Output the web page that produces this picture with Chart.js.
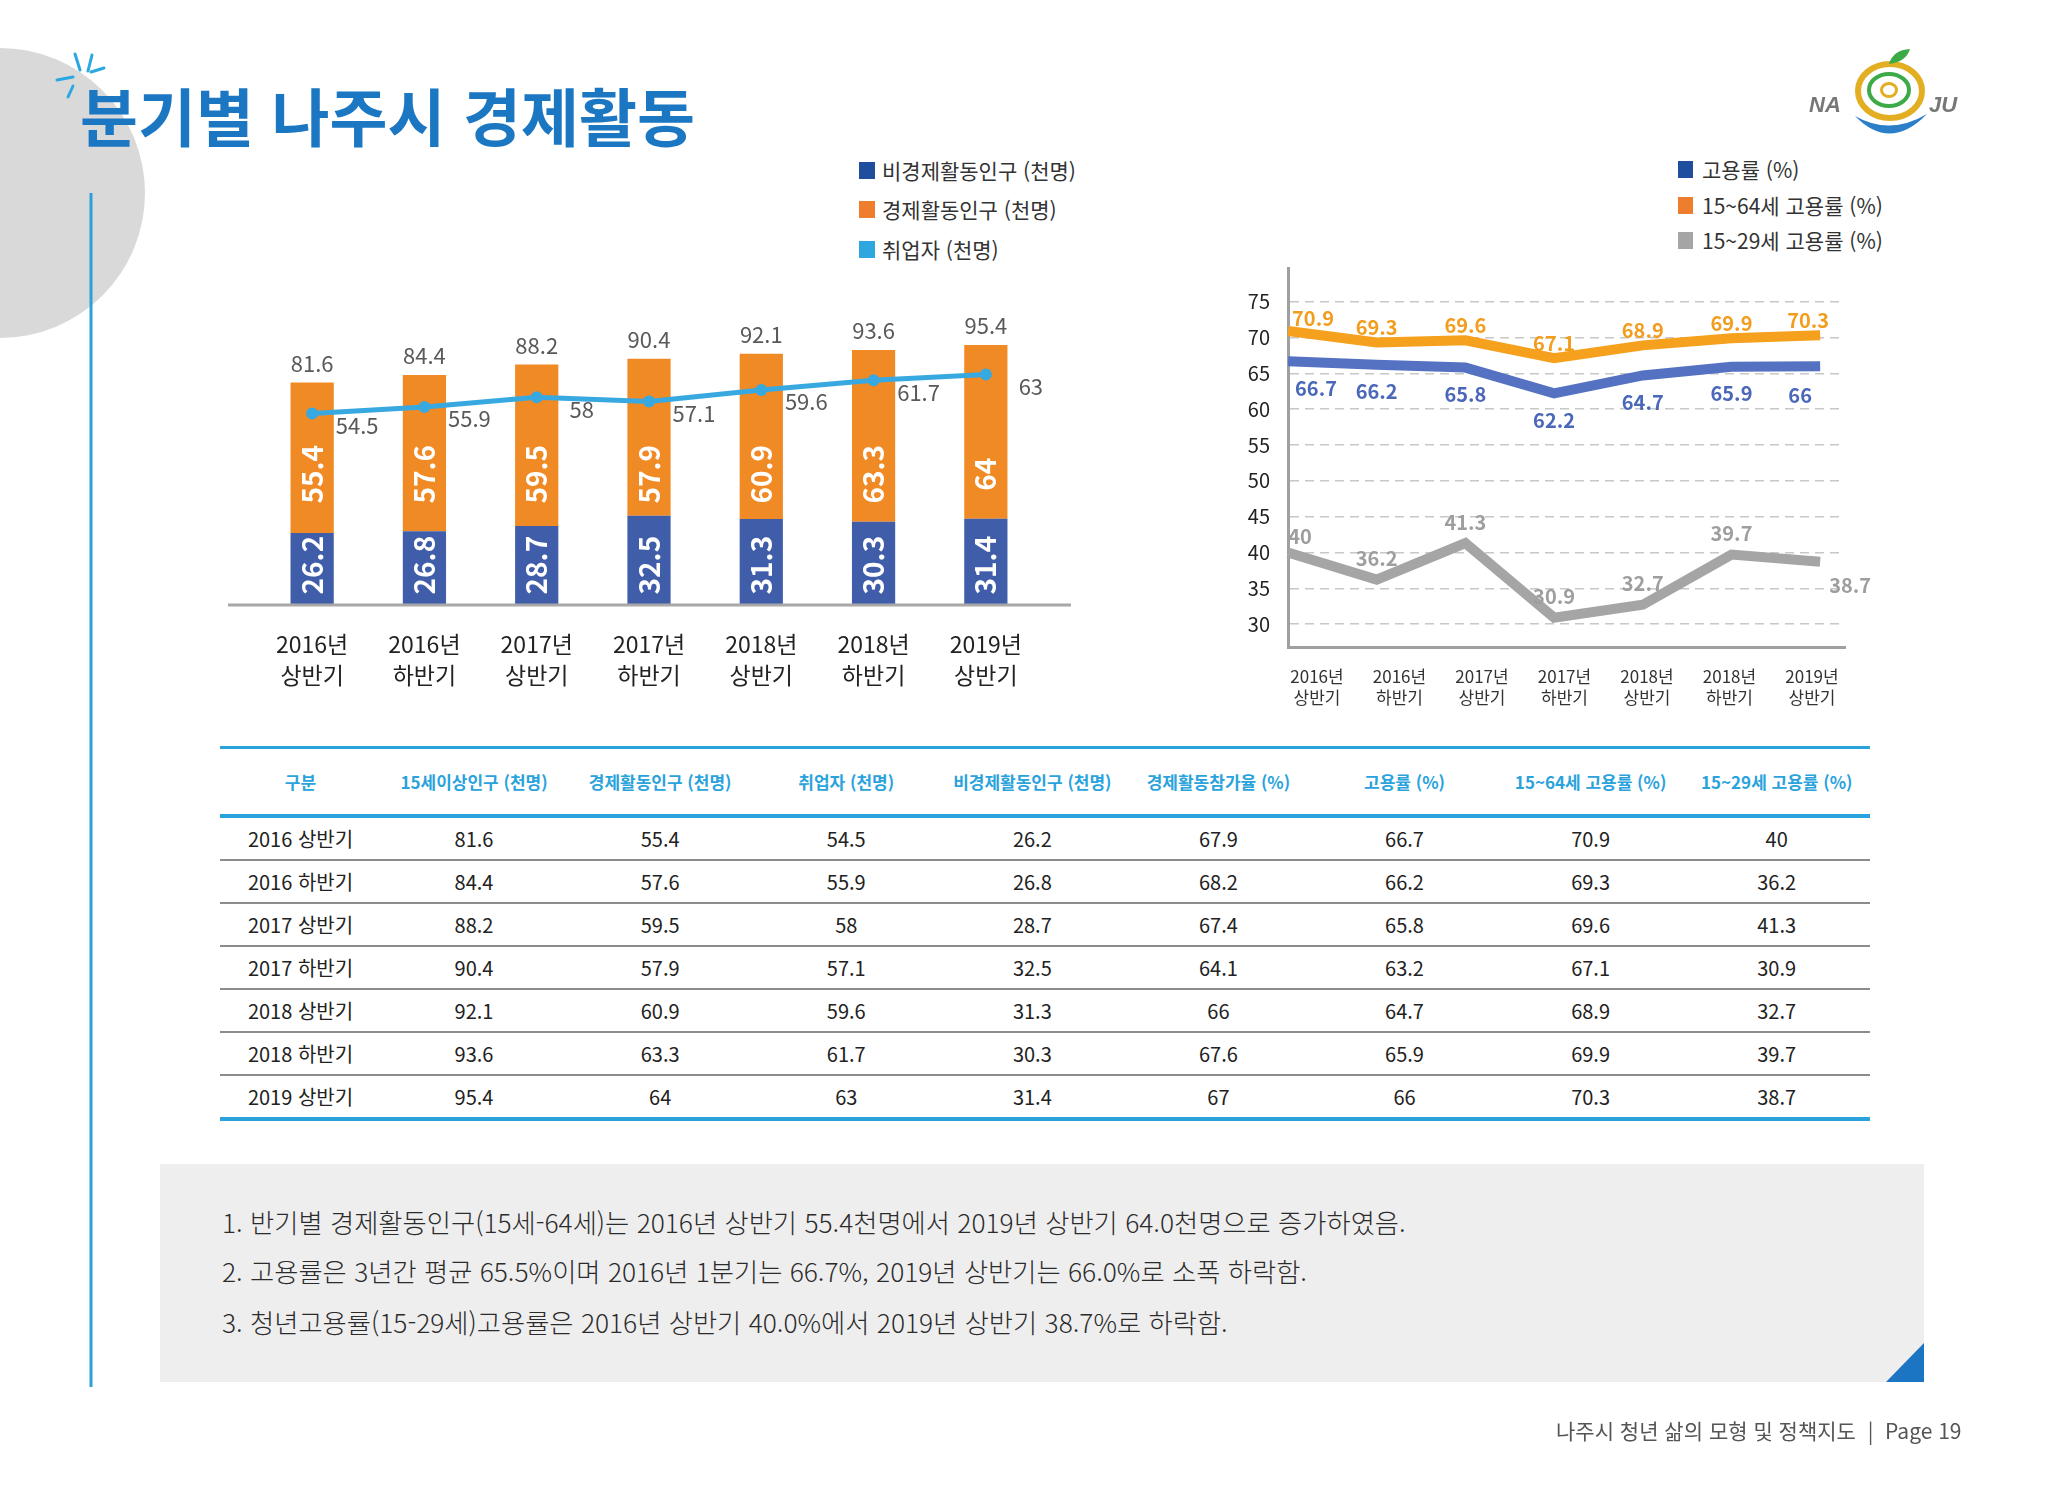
<!DOCTYPE html>
<html lang="ko"><head><meta charset="utf-8">
<script src="https://cdn.jsdelivr.net/npm/chart.js@4.4.1/dist/chart.umd.min.js"></script>
<style>
html,body{margin:0;padding:0;background:#fff;}
#page{position:relative;width:2048px;height:1497px;overflow:hidden;font-family:"Noto Sans CJK KR","Noto Sans",sans-serif;}
.abs{position:absolute;}
.title{left:80px;top:81px;font-size:63px;line-height:65px;font-weight:700;color:#1C77C3;white-space:nowrap;}
.lg{position:absolute;height:30px;display:flex;align-items:center;white-space:nowrap;color:#333;}
.lg i{display:inline-block;width:16px;height:17px;margin-right:7px;}
.tbl{position:absolute;left:220px;top:746px;width:1650px;border-top:3px solid #2AA3DC;}
.row{display:flex;align-items:center;}
.row div{text-align:center;white-space:nowrap;}
.row div:first-child{width:161px;}
.row div:not(:first-child){width:186.1px;}
.hdr{height:65px;border-bottom:4px solid #2AA3DC;color:#2AA3DC;font-weight:700;font-size:17px;}
.dr{height:41px;border-bottom:2px solid #8C8C8C;color:#222;font-size:20px;}
.dr.last{border-bottom:4px solid #2AA3DC;}
.notes{left:160px;top:1164px;width:1764px;height:218px;background:#EFEEEF;}
.notes p{margin:0;position:absolute;left:62px;font-size:26.3px;line-height:50px;color:#2b2b2b;white-space:nowrap;font-weight:300;}
.foot{left:1556px;top:1416px;font-size:21px;line-height:28px;color:#555;white-space:nowrap;}
</style></head><body>
<div id="page">
<svg class="abs" style="left:0;top:0" width="2048" height="1497">
  <circle cx="0" cy="193" r="145" fill="#DAD9D9"/>
  <line x1="91" y1="193" x2="91" y2="1387" stroke="#2BA0DC" stroke-width="3"/>
  <g stroke="#2BA8E0" stroke-width="3" stroke-linecap="round">
    <line x1="75" y1="54" x2="80" y2="70"/>
    <line x1="92" y1="55" x2="88" y2="71"/>
    <line x1="91" y1="72" x2="104" y2="68"/>
    <line x1="57" y1="80" x2="73" y2="77"/>
    <line x1="68" y1="97" x2="73" y2="86"/>
  </g>
</svg>
<div class="abs title">분기별 나주시 경제활동</div>

<div class="lg" style="left:859px;top:155px;font-size:21px;"><i style="background:#1F4E9F"></i>비경제활동인구 (천명)</div>
<div class="lg" style="left:859px;top:194px;font-size:21px;"><i style="background:#EF7D2E"></i>경제활동인구 (천명)</div>
<div class="lg" style="left:859px;top:234px;font-size:21px;"><i style="background:#2EA6DF"></i>취업자 (천명)</div>

<div class="lg" style="left:1678px;top:154px;font-size:21px;"><i style="background:#1F4E9F;width:15px;margin-right:9px"></i>고용률 (%)</div>
<div class="lg" style="left:1678px;top:190px;font-size:21px;"><i style="background:#EF7D2E;width:15px;margin-right:9px"></i>15~64세 고용률 (%)</div>
<div class="lg" style="left:1678px;top:225px;font-size:21px;"><i style="background:#A5A5A5;width:15px;margin-right:9px"></i>15~29세 고용률 (%)</div>

<div class="abs" style="left:200px;top:280px;width:900px;height:440px;"><canvas id="left" width="900" height="440"></canvas></div>
<div class="abs" style="left:1200px;top:250px;width:700px;height:480px;"><canvas id="right" width="700" height="480"></canvas></div>

<div class="tbl" id="tbl"></div>

<div class="abs notes">
  <p style="top:33px">1. 반기별 경제활동인구(15세-64세)는 2016년 상반기 55.4천명에서 2019년 상반기 64.0천명으로 증가하였음.</p>
  <p style="top:82px">2. 고용률은 3년간 평균 65.5%이며 2016년 1분기는 66.7%, 2019년 상반기는 66.0%로 소폭 하락함.</p>
  <p style="top:133px">3. 청년고용률(15-29세)고용률은 2016년 상반기 40.0%에서 2019년 상반기 38.7%로 하락함.</p>
</div>

<svg class="abs" style="left:0;top:0" width="2048" height="1497">
  <polygon points="1886,1382 1924,1382 1924,1343" fill="#1B75C2"/>
  <g>
    <ellipse cx="1890" cy="91" rx="32" ry="27" fill="none" stroke="#E3AE22" stroke-width="6"/>
    <ellipse cx="1889" cy="90" rx="20" ry="16" fill="none" stroke="#3DAA48" stroke-width="4"/>
    <ellipse cx="1889" cy="90" rx="7.5" ry="6.5" fill="none" stroke="#E3AE22" stroke-width="3"/>
    <path d="M1889,64 Q1893,50 1910,49 Q1906,62 1889,64 Z" fill="#3DAA48"/>
    <path d="M1855,116 Q1890,152 1927,114 Q1890,136 1855,116 Z" fill="#2B7FC8"/>
    <text x="1809" y="112" font-family="Liberation Sans, Arial, sans-serif" font-size="22" font-weight="700" font-style="italic" fill="#777">NA</text>
    <text x="1929" y="112" font-family="Liberation Sans, Arial, sans-serif" font-size="22" font-weight="700" font-style="italic" fill="#777">JU</text>
  </g>
</svg>

<div class="abs foot">나주시 청년 삶의 모형 및 정책지도&nbsp;&nbsp;|&nbsp;&nbsp;Page 19</div>
</div>

<script>
// ---------- data ----------
const periods = [['2016년','상반기'],['2016년','하반기'],['2017년','상반기'],['2017년','하반기'],['2018년','상반기'],['2018년','하반기'],['2019년','상반기']];
const nonActive = [26.2, 26.8, 28.7, 32.5, 31.3, 30.3, 31.4];   // 비경제활동인구 (천명)
const active = [55.4, 57.6, 59.5, 57.9, 60.9, 63.3, 64];         // 경제활동인구 (천명)
const employed = [54.5, 55.9, 58, 57.1, 59.6, 61.7, 63];         // 취업자 (천명)
const pop15 = [81.6, 84.4, 88.2, 90.4, 92.1, 93.6, 95.4];        // 15세이상인구 (천명)
const empRate = [66.7, 66.2, 65.8, 62.2, 64.7, 65.9, 66];        // 고용률 (%) as labelled in chart
const empRate1564 = [70.9, 69.3, 69.6, 67.1, 68.9, 69.9, 70.3];  // 15~64세 고용률 (%)
const empRate1529 = [40, 36.2, 41.3, 30.9, 32.7, 39.7, 38.7];    // 15~29세 고용률 (%)
const yTicksRight = [30, 35, 40, 45, 50, 55, 60, 65, 70, 75];

const tableHeaders = ['구분','15세이상인구 (천명)','경제활동인구 (천명)','취업자 (천명)','비경제활동인구 (천명)','경제활동참가율 (%)','고용률 (%)','15~64세 고용률 (%)','15~29세 고용률 (%)'];
const tablePeriods = ['2016 상반기','2016 하반기','2017 상반기','2017 하반기','2018 상반기','2018 하반기','2019 상반기'];
const participation = [67.9, 68.2, 67.4, 64.1, 66, 67.6, 67];
const empRateTable = [66.7, 66.2, 65.8, 63.2, 64.7, 65.9, 66];

// ---------- table ----------
(function(){
  const t = document.getElementById('tbl');
  let h = '<div class="row hdr">' + tableHeaders.map(s=>'<div>'+s+'</div>').join('') + '</div>';
  tablePeriods.forEach((p,i)=>{
    const cells = [p, pop15[i], active[i], employed[i], nonActive[i], participation[i], empRateTable[i], empRate1564[i], empRate1529[i]];
    h += '<div class="row dr' + (i===tablePeriods.length-1?' last':'') + '">' + cells.map(c=>'<div>'+c+'</div>').join('') + '</div>';
  });
  t.innerHTML = h;
})();

// ---------- charts ----------
const F = '"Noto Sans CJK KR","Noto Sans",sans-serif';
Chart.defaults.font.family = F;

const ACTIVE_LABEL_LEVEL = 47.8; // value level where labels of upper segment sit
const NON_LABEL_LEVEL = 14.3;

const leftLabels = {
  id:'leftLabels',
  afterDatasetsDraw(chart){
    const {ctx, chartArea:a} = chart;
    const x = chart.scales.x, y = chart.scales.y, y2 = chart.scales.y2;
    ctx.save();
    const y0 = y.getPixelForValue(0);
    ctx.strokeStyle = '#A8A8A8'; ctx.lineWidth = 3;
    ctx.beginPath(); ctx.moveTo(a.left-28, y0+1); ctx.lineTo(a.right+29, y0+1); ctx.stroke();
    ctx.textAlign = 'center'; ctx.textBaseline = 'middle';
    ctx.fillStyle = '#595959'; ctx.font = '22px ' + F;
    pop15.forEach((v,i)=>{
      ctx.fillText(String(v), x.getPixelForValue(i), y.getPixelForValue(nonActive[i]+active[i]) - 19);
    });
    employed.forEach((v,i)=>{
      ctx.fillText(String(v), x.getPixelForValue(i) + 45, y2.getPixelForValue(v) + 12);
    });
    ctx.fillStyle = '#fff'; ctx.font = 'bold 28px ' + F;
    const rot = (t,px,py)=>{ ctx.save(); ctx.translate(px,py); ctx.rotate(-Math.PI/2); ctx.fillText(t,0,0); ctx.restore(); };
    active.forEach((v,i)=>rot(String(v), x.getPixelForValue(i), y.getPixelForValue(ACTIVE_LABEL_LEVEL)));
    nonActive.forEach((v,i)=>rot(String(v), x.getPixelForValue(i), y.getPixelForValue(NON_LABEL_LEVEL)));
    ctx.restore();
  }
};

new Chart(document.getElementById('left'), {
  type:'bar',
  data:{
    labels: periods,
    datasets:[
      {type:'line', label:'취업자 (천명)', data: employed, yAxisID:'y2', borderColor:'#38A9E0', backgroundColor:'#38A9E0',
       borderWidth:5, pointRadius:6, pointBackgroundColor:'#38A9E0', pointBorderWidth:0, order:0, clip:false},
      {label:'비경제활동인구 (천명)', data: nonActive, backgroundColor:'#3F5DA9', stack:'s', order:1, yAxisID:'y'},
      {label:'경제활동인구 (천명)', data: active, backgroundColor:'#F08A24', stack:'s', order:1, yAxisID:'y'}
    ]
  },
  options:{
    responsive:false, animation:false, devicePixelRatio:1,
    layout:{padding:{left:56, right:58, top:20, bottom:0}},
    plugins:{legend:{display:false}, tooltip:{enabled:false}},
    datasets:{bar:{categoryPercentage:1, barPercentage:0.385}},
    scales:{
      x:{stacked:true, grid:{display:false, drawTicks:false}, border:{display:false},
         ticks:{font:{size:23, lineHeight:1.35}, color:'#222', padding:25, maxRotation:0, autoSkip:false},
         afterFit:(s)=>{ s.height = 116; s.paddingLeft = 0; s.paddingRight = 0; }},
      y:{stacked:true, display:false, min:0, max:112},
      y2:{display:false, min:13, max:79.2}
    }
  },
  plugins:[leftLabels]
});

const rightLabels = {
  id:'rightLabels',
  afterDatasetsDraw(chart){
    const {ctx} = chart; const x = chart.scales.x, y = chart.scales.y;
    ctx.save(); ctx.textAlign = 'center'; ctx.textBaseline = 'middle'; ctx.font = 'bold 20px ' + F;
    const put = (arr, color, dy, firstDx, firstDy, lastDx, lastDy)=>{
      ctx.fillStyle = color;
      arr.forEach((v,i)=>{
        let dx = 0, d = dy;
        if (i === 0) { dx = firstDx; d = firstDy; }
        if (i === arr.length-1) { dx = lastDx; d = lastDy; }
        ctx.fillText(String(v), x.getPixelForValue(i) + dx, y.getPixelForValue(v) + d);
      });
    };
    put(empRate1564, '#F29D1E', -15, 25, -13, -12, -15);
    put(empRate, '#4A67BA', 27, 28, 27, -20, 29);
    put(empRate1529, '#9E9E9E', -21, 12, -16, 30, 24);
    ctx.restore();
  }
};

const pts = arr => arr.map((v,i)=>({x:i, y:v}));
new Chart(document.getElementById('right'), {
  type:'line',
  data:{
    datasets:[
      {label:'15~29세 고용률 (%)', data: pts(empRate1529), borderColor:'#A5A5A5', borderWidth:10, pointRadius:0, clip:false, xAxisID:'x', yAxisID:'y'},
      {label:'고용률 (%)', data: pts(empRate), borderColor:'#5571C1', borderWidth:10, pointRadius:0, clip:false, xAxisID:'x', yAxisID:'y'},
      {label:'15~64세 고용률 (%)', data: pts(empRate1564), borderColor:'#F5A11E', borderWidth:10, pointRadius:0, clip:false, xAxisID:'x', yAxisID:'y'}
    ]
  },
  options:{
    responsive:false, animation:false, devicePixelRatio:1,
    layout:{padding:{left:0, right:55, top:18, bottom:0}},
    plugins:{legend:{display:false}, tooltip:{enabled:false}},
    scales:{
      x:{type:'linear', display:false, min:0, max:6.28},
      xl:{type:'linear', position:'bottom', min:-0.3515, max:6.40,
          afterBuildTicks:(s)=>{ s.ticks = periods.map((p,i)=>({value:i})); },
          grid:{display:false, drawTicks:false}, border:{display:true, color:'#A0A0A0', width:3},
          ticks:{font:{size:17, lineHeight:1.25}, color:'#333', padding:19, maxRotation:0, autoSkip:false,
                 callback:(v)=>periods[v]},
          afterFit:(s)=>{ s.height = 83; s.paddingLeft = 0; s.paddingRight = 0; }},
      y:{position:'left', min:26.8, max:79.7,
         afterBuildTicks:(s)=>{ s.ticks = yTicksRight.map(v=>({value:v})); },
         grid:{color:'#C8C8C8', lineWidth:1.5, drawTicks:false},
         border:{display:true, color:'#A0A0A0', width:3, dash:[9,6]},
         ticks:{font:{size:20}, color:'#222', padding:18},
         afterFit:(s)=>{ s.width = 88; s.paddingTop = 0; s.paddingBottom = 0; }}
    }
  },
  plugins:[rightLabels]
});
</script>
</body></html>
